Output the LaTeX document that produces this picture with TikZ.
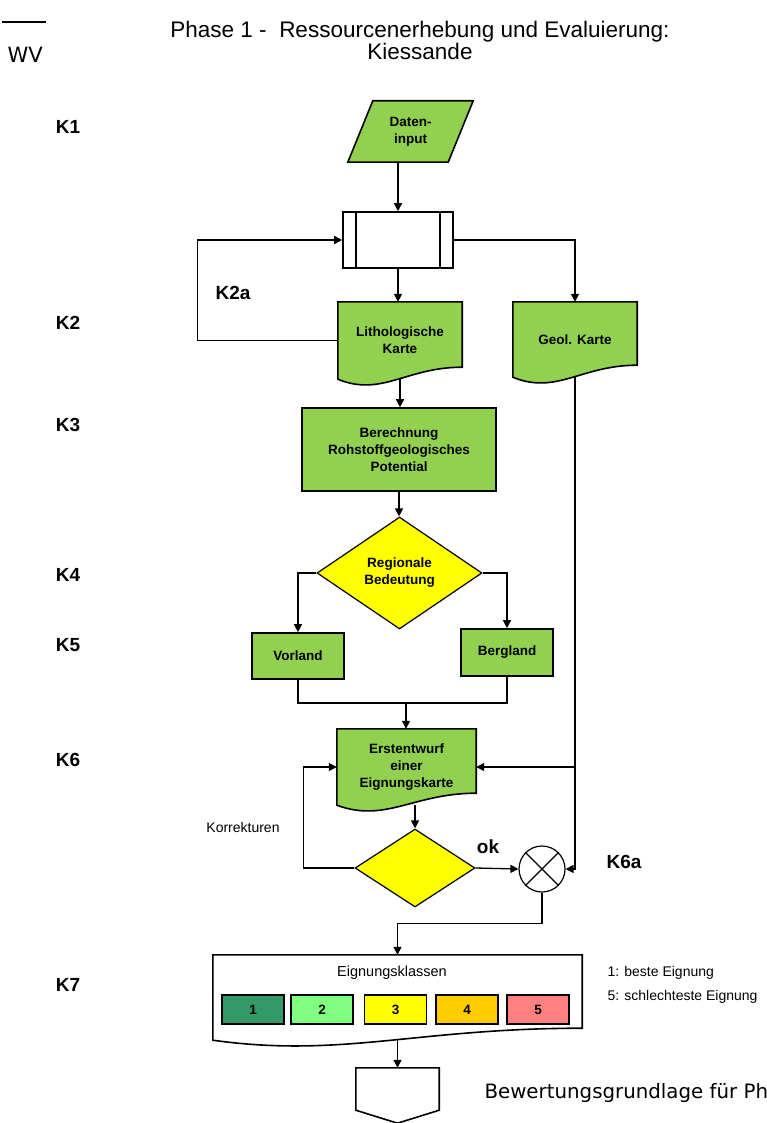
\documentclass[tikz,border=0pt]{standalone}
\usepackage{fontspec}
\setmainfont{Liberation Sans}
\newfontfamily\dejavu{DejaVu Sans}
\usetikzlibrary{shapes.geometric,arrows.meta,backgrounds,calc}

\definecolor{kgreen}{HTML}{92D050}
\definecolor{kyellow}{HTML}{FFFF00}
\definecolor{klasseA}{HTML}{339966}
\definecolor{klasseB}{HTML}{80FF80}
\definecolor{klasseC}{HTML}{FFFF00}
\definecolor{klasseD}{HTML}{FFCC00}
\definecolor{klasseE}{HTML}{FF8080}

\tikzset{
  boxfont/.style={font=\bfseries\fontsize{13.5}{17}\selectfont},
  proc/.style={rectangle, draw, line width=1.6pt, fill=kgreen, boxfont, align=center, inner sep=0pt},
  doc/.style={rectangle, boxfont, align=center, inner sep=0pt},
  dec/.style={diamond, draw, line width=1.2pt, fill=kyellow, boxfont, align=center, inner sep=0pt},
  klasse/.style={rectangle, draw, line width=1.6pt, minimum width=62pt, minimum height=29pt, boxfont},
  klabel/.style={font=\bfseries\fontsize{19}{22}\selectfont},
  line/.style={line width=1.3pt},
  arrow/.style={line, -{Triangle[length=8pt,width=8pt]}},
}

% outline of a document symbol (wavy bottom) round a node
\newcommand{\docoutline}[2]{%
  \draw[line width=1.6pt, fill=#2] (#1.south west) -- (#1.north west) -- (#1.north east)
    -- ([yshift=12pt]#1.south east)
    .. controls ($(#1.south west)!0.55!(#1.south east)+(0,12pt)$)
    and ($(#1.south west)!0.35!(#1.south east)+(0,-18pt)$) .. (#1.south west) -- cycle;}

\begin{document}
\begin{tikzpicture}[x=1pt,y=-1pt]
    \useasboundingbox (0,0) rectangle (767,1123);

    % Page remains at the top left
    \draw[line width=1.2pt] (2,22) -- (46,22);
    \node[anchor=west, font=\dejavu\fontsize{21}{21}\selectfont] (wv) at (4,55) {WV};

    % Title
    \node[font=\fontsize{22.5}{19}\selectfont, align=center] (title) at (420,40)
        {Phase 1 -\ \ Ressourcenerhebung und Evaluierung:\\Kiessande};

    % Step labels
    \foreach \k/\y in {1/127,2/323,3/425,4/575,5/645,6/760,7/985}
        \node[klabel] (K\k) at (68,\y) {K\k};
    \node[klabel] (K2a) at (233,293) {K2a};
    \node[klabel, anchor=west] (K6a) at (603,862) {K6a};

    % Boxes
    \node[doc, minimum width=100pt, minimum height=61pt] (daten) at (410.5,131.5) {Daten-\\input};
    \node[rectangle, draw, line width=1.6pt, fill=white, minimum width=110pt, minimum height=56pt] (pre) at (398,240) {};
    \draw[line width=1.6pt] ([xshift=14pt]pre.north west) -- ([xshift=14pt]pre.south west);
    \draw[line width=1.6pt] ([xshift=-14pt]pre.north east) -- ([xshift=-14pt]pre.south east);
    \node[doc, minimum width=124pt, minimum height=77pt] (litho) at (400,340.5) {Lithologische\\Karte};
    \node[doc, minimum width=124pt, minimum height=75pt] (geol) at (575,339.5) {Geol. Karte};
    \node[proc, minimum width=194pt, minimum height=83pt] (ber) at (399,449.5)
        {Berechnung\\Rohstoffgeologisches\\Potential};
    \node[dec, minimum width=165pt, minimum height=112pt] (dec1) at (399.5,573) {Regionale\\Bedeutung};
    \node[proc, minimum width=92pt, minimum height=46pt] (vorland) at (298,656) {Vorland};
    \node[proc, minimum width=92pt, minimum height=47pt] (bergland) at (507,652.5) {Bergland};
    \node[doc, minimum width=139pt, minimum height=76pt] (erst) at (406.5,767) {Erstentwurf\\einer\\Eignungskarte};
    \node[dec, minimum width=120pt, minimum height=78pt] (dec2) at (415,868) {};
    \node[circle, draw, line width=1.2pt, minimum size=46pt, inner sep=0pt] (circ) at (542,869) {};
    \draw[line width=1.2pt] (circ.north west) -- (circ.south east);
    \draw[line width=1.2pt] (circ.north east) -- (circ.south west);
    \node[doc, minimum width=369pt, minimum height=85pt] (eign) at (397.5,997.5) {};
    \node[font=\fontsize{14.5}{17}\selectfont] (eigntitle) at (392,973) {Eignungsklassen};
    \foreach \i/\x/\c in {1/253/klasseA,2/322/klasseB,3/395.5/klasseC,4/467/klasseD,5/538/klasseE}
        \node[klasse, fill=\c] (kl\i) at (\x,1009.5) {\i};
    \node[rectangle, minimum width=83pt, minimum height=42pt] (off) at (397.5,1089) {};

    % Shapes behind the texts
    \begin{scope}[on background layer]
        \draw[line width=1.6pt, fill=kgreen] ([xshift=12.5pt]daten.north west) -- ([xshift=12.5pt]daten.north east)
            -- ([xshift=-12.5pt]daten.south east) -- ([xshift=-12.5pt]daten.south west) -- cycle;
        \docoutline{litho}{kgreen}
        \docoutline{geol}{kgreen}
        \docoutline{erst}{kgreen}
        \docoutline{eign}{white}
        \draw[line width=1.6pt] (off.south west) -- (off.north west) -- (off.north east) -- (off.south east)
            -- ([yshift=-13pt]off.south) -- cycle;
    \end{scope}

    % Connectors
    \draw[arrow] (daten.south -| pre.north) -- (pre.north);
    \draw[arrow] (pre.south) -- (pre.south |- litho.north);
    \draw[arrow] (pre.east) -| (geol.north);
    \draw[arrow] (litho.west) -- ++(-140,0) |- (pre.west);
    \draw[arrow] (litho.south) -- (litho.south |- ber.north);
    \draw[arrow] (ber.south) -- (ber.south |- dec1.north);
    \draw[arrow] (dec1.west) -| (vorland.north);
    \draw[arrow] (dec1.east) -| (bergland.north);
    \coordinate (join) at (406,703);
    \draw[line] (vorland.south) |- (join) -| (bergland.south);
    \draw[arrow] (join) -- (join |- erst.north);
    \draw[arrow] (erst.south -| dec2.north) -- (dec2.north);
    \draw[arrow] (dec2.west) -- ++(-51,0) |- (erst.west);
    \draw[arrow] (geol.south) |- (circ.east);
    \draw[arrow] (geol.south |- erst.east) -- (erst.east);
    \draw[arrow] (dec2.east) -- (circ.west);
    \draw[arrow] (circ.south) -- ++(0,31) -| (eign.north);
    \draw[arrow] (eign.south) -- (off.north);

    % Remarks
    \node[font=\fontsize{14}{17}\selectfont] (korr) at (243,827) {Korrekturen};
    \node[klabel] (ok) at (488,847) {ok};
    \node[anchor=west, font=\fontsize{14}{17}\selectfont] (leg1) at (604,973) {1: beste Eignung};
    \node[anchor=west, font=\fontsize{14}{17}\selectfont] (leg5) at (604,997) {5: schlechteste Eignung};
    \node[anchor=west, font=\dejavu\fontsize{19.8}{19}\selectfont] (bew) at (481,1093) {Bewertungsgrundlage für Ph};
\end{tikzpicture}
\end{document}
